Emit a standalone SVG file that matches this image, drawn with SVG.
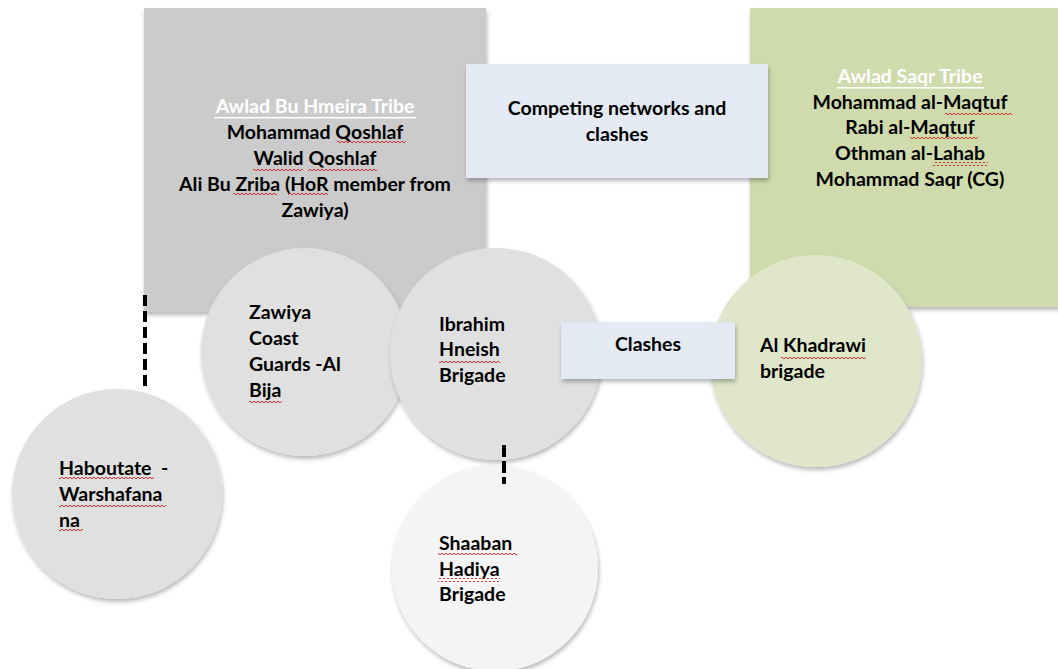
<svg xmlns="http://www.w3.org/2000/svg" width="1058" height="669" viewBox="0 0 1058 669">
<defs>
<filter id="sh" x="-10%" y="-10%" width="125%" height="125%">
<feDropShadow dx="1" dy="3" stdDeviation="2" flood-color="#000" flood-opacity="0.28"/>
</filter>
<pattern id="wave" patternUnits="userSpaceOnUse" width="4" height="4">
<path d="M0,3 L2,1 L4,3" fill="none" stroke="#e0201e" stroke-width="0.9"/>
</pattern>
</defs>
<style>
text{font-family:Lato,"Open Sans","Liberation Sans",sans-serif;font-weight:bold;font-size:19.5px;fill:#000}
.c{text-anchor:middle}
.w{fill:#fff}
.wv{fill:url(#wave)}
.dash{stroke:#000;stroke-width:4;fill:none}
</style>
<rect width="1058" height="669" fill="#fff"/>

<g id="awlad-bu-hmeira" filter="url(#sh)">
<rect x="144" y="8" width="342" height="304" fill="#cbcbcb"/>
</g>
<g id="awlad-bu-hmeira-text">
<text class="c w" x="315" y="113">Awlad Bu Hmeira Tribe</text>
<rect x="214" y="117" width="202" height="1.5" fill="#fff"/>
<text class="c" x="315" y="139">Mohammad Qoshlaf</text>
<text class="c" x="315" y="165">Walid Qoshlaf</text>
<text class="c" x="315" y="191">Ali Bu Zriba (HoR member from</text>
<text class="c" x="315" y="217">Zawiya)</text>
<rect class="wv" x="337" y="141" width="69" height="4"/>
<rect class="wv" x="253" y="167" width="50" height="4"/>
<rect class="wv" x="308" y="167" width="69" height="4"/>
<rect class="wv" x="233" y="193" width="44" height="4"/>
<rect class="wv" x="288" y="193" width="40" height="4"/>
</g>

<g id="awlad-saqr" filter="url(#sh)">
<rect x="750" y="8" width="310" height="299" fill="#cfdbad"/>
</g>
<g id="awlad-saqr-text">
<text class="c w" x="910" y="83">Awlad Saqr Tribe</text>
<rect x="837" y="87" width="147" height="1.5" fill="#fff"/>
<text class="c" x="910" y="109">Mohammad al-Maqtuf</text>
<text class="c" x="910" y="134">Rabi al-Maqtuf</text>
<text class="c" x="910" y="160">Othman al-Lahab</text>
<text class="c" x="910" y="186">Mohammad Saqr (CG)</text>
<rect class="wv" x="945" y="111" width="67" height="4"/>
<rect class="wv" x="910" y="136" width="68" height="4"/>
<rect class="wv" x="933" y="162" width="55" height="4"/>
</g>

<g id="competing">
<rect x="466" y="64" width="302" height="114" fill="#e3eaf3" filter="url(#sh)"/>
<text class="c" x="617" y="115">Competing networks and</text>
<text class="c" x="617" y="141">clashes</text>
</g>

<g id="zawiya-coast-guards">
<circle cx="305" cy="352" r="104" fill="#e0e0e0" filter="url(#sh)"/>
<text x="249" y="319">Zawiya</text>
<text x="249" y="345">Coast</text>
<text x="249" y="371">Guards -Al</text>
<text x="249" y="397">Bija</text>
<rect class="wv" x="249" y="400" width="33" height="4"/>
</g>

<g id="ibrahim-hneish">
<circle cx="496" cy="354" r="106" fill="#e0e0e0" filter="url(#sh)"/>
<text x="439" y="331">Ibrahim</text>
<text x="439" y="356">Hneish</text>
<text x="439" y="382">Brigade</text>
<rect class="wv" x="439" y="359" width="61" height="4"/>
</g>

<g id="haboutate">
<circle cx="117" cy="494" r="105" fill="#e0e0e0" filter="url(#sh)"/>
<text x="59" y="475" xml:space="preserve">Haboutate  -</text>
<text x="59" y="501">Warshafana</text>
<text x="59" y="527">na</text>
<rect class="wv" x="59" y="477" width="95" height="4"/>
<rect class="wv" x="59" y="503" width="107" height="4"/>
<rect class="wv" x="59" y="529" width="24" height="4"/>
</g>

<g id="shaaban-hadiya">
<circle cx="495" cy="568" r="103" fill="#f4f4f4" filter="url(#sh)"/>
<text x="439" y="550">Shaaban</text>
<text x="439" y="576">Hadiya</text>
<text x="439" y="601">Brigade</text>
<rect class="wv" x="438" y="552" width="79" height="4"/>
<rect class="wv" x="438" y="578" width="62" height="4"/>
</g>

<g id="al-khadrawi">
<circle cx="816" cy="361" r="106" fill="#dfe6c9" filter="url(#sh)"/>
<text x="760" y="352">Al Khadrawi</text>
<text x="760" y="378">brigade</text>
<rect class="wv" x="781" y="355" width="85" height="4"/>
</g>

<g id="clashes">
<rect x="561" y="322" width="174" height="57" fill="#e3eaf3" filter="url(#sh)"/>
<text class="c" x="648" y="351">Clashes</text>
</g>

<g id="connectors">
<line class="dash" x1="145" y1="295" x2="145" y2="390" stroke-dasharray="11 5"/>
<line class="dash" x1="504" y1="445" x2="504" y2="484" stroke-dasharray="12 4"/>
</g>
</svg>
